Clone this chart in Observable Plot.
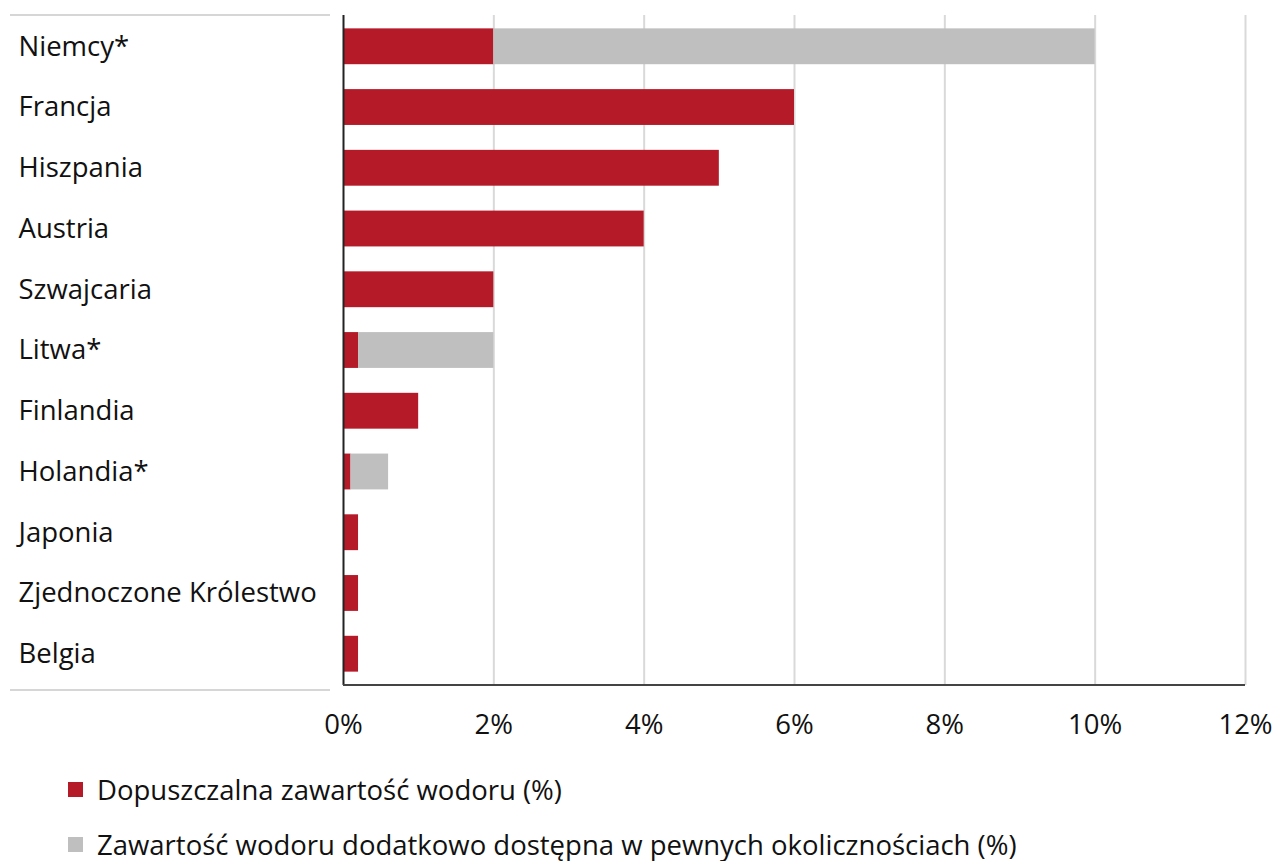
<!DOCTYPE html>
<html>
<head>
<meta charset="utf-8">
<script src="https://cdn.jsdelivr.net/npm/d3@7"></script>
<script src="https://cdn.jsdelivr.net/npm/@observablehq/plot@0.6"></script>
<style>
  body { margin: 0; background: #fff; font-family: "Open Sans", sans-serif; }
  #legend { position: relative; margin-top: 12px; }
  .item { display: flex; align-items: center; height: 55px; margin-left: 68px; font-size: 27.5px; color: #111; white-space: nowrap; }
  .sw { width: 15px; height: 15px; margin-right: 14px; }
</style>
</head>
<body>
<div id="chart"></div>
<div id="legend"></div>
<script>
const countries = ["Niemcy*", "Francja", "Hiszpania", "Austria", "Szwajcaria", "Litwa*", "Finlandia", "Holandia*", "Japonia", "Zjednoczone Królestwo", "Belgia"];
const allowed = [2, 6, 5, 4, 2, 0.2, 1, 0.1, 0.2, 0.2, 0.2];
const additional = [8, 0, 0, 0, 0, 1.8, 0, 0.5, 0, 0, 0];
const seriesNames = ["Dopuszczalna zawartość wodoru (%)", "Zawartość wodoru dodatkowo dostępna w pewnych okolicznościach (%)"];
const seriesColors = ["#B41A28", "#BFBFBF"];
const xTicks = [0, 2, 4, 6, 8, 10, 12];

const rows = [];
countries.forEach((c, i) => {
  rows.push({country: c, series: seriesNames[0], value: allowed[i]});
  rows.push({country: c, series: seriesNames[1], value: additional[i]});
});

const plot = Plot.plot({
  width: 1274,
  height: 750,
  marginLeft: 343,
  marginRight: 29,
  marginTop: 15,
  marginBottom: 65,
  style: {fontFamily: "Open Sans, sans-serif", fontSize: "27.5px", color: "#111"},
  x: {domain: [0, 12], ticks: xTicks, tickFormat: d => d + "%"},
  y: {domain: countries, paddingInner: 0.41, paddingOuter: 0.22, round: false, axis: null},
  color: {domain: seriesNames, range: seriesColors},
  marks: [
    Plot.gridX(xTicks.filter(d => d > 0), {stroke: "#d9d9d9", strokeOpacity: 1, strokeWidth: 2}),
    Plot.barX(rows, {y: "country", x: "value", fill: "series", order: seriesNames}),
    Plot.axisX({ticks: xTicks, tickFormat: d => d + "%", tickSize: 0, tickPadding: 29, fontSize: 27.5, label: null}),
    Plot.ruleX([0], {stroke: "#222", strokeWidth: 2}),
    Plot.text(countries, {y: d => d, text: d => d, frameAnchor: "left", textAnchor: "start", dx: -325, fontSize: 27.5, fill: "#111"})
  ]
});
document.getElementById("chart").appendChild(plot);

// bottom axis line and left table borders
const svg = d3.select(plot);
const xs = plot.scale("x").range;
const ys = plot.scale("y").range;
svg.append("line").attr("x1", xs[0]).attr("x2", xs[1]).attr("y1", ys[1]).attr("y2", ys[1]).attr("stroke", "#444").attr("stroke-width", 2);
svg.append("line").attr("x1", 10).attr("x2", 330).attr("y1", ys[0]).attr("y2", ys[0]).attr("stroke", "#c8c8c8").attr("stroke-width", 1.5);
svg.append("line").attr("x1", 10).attr("x2", 330).attr("y1", ys[1] + 5).attr("y2", ys[1] + 5).attr("stroke", "#c8c8c8").attr("stroke-width", 1.5);

const legend = d3.select("#legend");
seriesNames.forEach((s, i) => {
  const it = legend.append("div").attr("class", "item");
  it.append("div").attr("class", "sw").style("background", seriesColors[i]);
  it.append("span").text(s);
});
</script>
</body>
</html>
